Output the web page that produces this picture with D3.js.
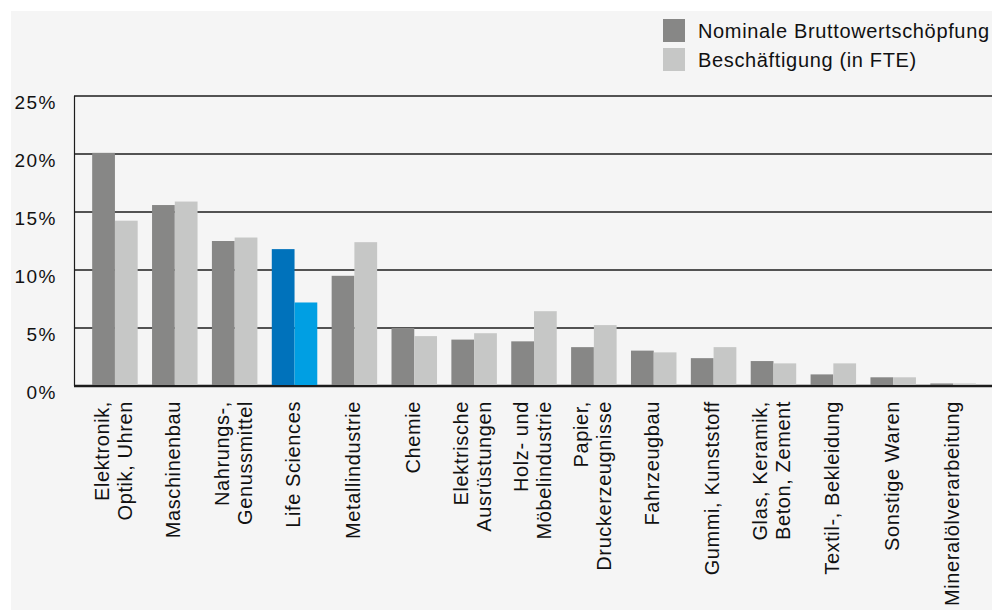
<!DOCTYPE html>
<html>
<head>
<meta charset="utf-8">
<script src="https://cdn.jsdelivr.net/npm/d3@7/dist/d3.min.js"></script>
<style>
  html, body { margin: 0; padding: 0; background: #ffffff; }
  svg { display: block; }
  text { font-family: "Liberation Sans", Arial, Helvetica, sans-serif; fill: #111; }
</style>
</head>
<body>
<svg id="chart" width="992" height="610"></svg>
<script>
const categories = [
  ["Elektronik,", "Optik, Uhren"],
  ["Maschinenbau"],
  ["Nahrungs-,", "Genussmittel"],
  ["Life Sciences"],
  ["Metallindustrie"],
  ["Chemie"],
  ["Elektrische", "Ausrüstungen"],
  ["Holz- und", "Möbelindustrie"],
  ["Papier,", "Druckerzeugnisse"],
  ["Fahrzeugbau"],
  ["Gummi, Kunststoff"],
  ["Glas, Keramik,", "Beton, Zement"],
  ["Textil-, Bekleidung"],
  ["Sonstige Waren"],
  ["Mineralölverarbeitung"]
];
const seriesNames = ["Nominale Bruttowertschöpfung", "Beschäftigung (in FTE)"];
const bruttowertschoepfung = [20.1, 15.6, 12.5, 11.8, 9.5, 5.0, 4.0, 3.85, 3.35, 3.05, 2.4, 2.15, 1.0, 0.75, 0.22];
const beschaeftigung      = [14.25, 15.9, 12.8, 7.2, 12.4, 4.3, 4.55, 6.45, 5.25, 2.9, 3.35, 1.95, 1.95, 0.75, 0.22];
const yTicks = [0, 5, 10, 15, 20, 25];
const highlight = "Life Sciences";

const colors = {
  dark: "#878786", light: "#c6c7c6",
  hiDark: "#0072bb", hiLight: "#009fe3"
};

const svg = d3.select("#chart");
const W = 992, H = 610;

// background panel
svg.append("rect").attr("x", 11).attr("y", 11).attr("width", W - 11).attr("height", H - 11).attr("fill", "#f5f5f5");

const plot = { left: 74, right: 992, top: 96, bottom: 386 };

const keys = categories.map(c => c.join(" "));
const x = d3.scaleBand().domain(keys).range([85, 983]).paddingInner(0.24).paddingOuter(0.12);
const xs = d3.scaleBand().domain([0, 1]).range([0, x.bandwidth()]).padding(0);
const y = d3.scaleLinear().domain([0, 25]).range([plot.bottom, plot.top]);

// gridlines
svg.append("g").selectAll("line").data(yTicks).join("line")
  .attr("x1", plot.left).attr("x2", plot.right)
  .attr("y1", d => y(d)).attr("y2", d => y(d))
  .attr("stroke", "#1c1c1c")
  .attr("stroke-width", d => d === 0 ? 2.5 : 1.5);

// left axis line
svg.append("line").attr("x1", plot.left + 0.5).attr("x2", plot.left + 0.5)
  .attr("y1", y(25)).attr("y2", y(0)).attr("stroke", "#1c1c1c").attr("stroke-width", 1.2);

// bars
const rows = keys.map((k, i) => ({ k, vals: [bruttowertschoepfung[i], beschaeftigung[i]] }));
const grp = svg.append("g").selectAll("g").data(rows).join("g")
  .attr("transform", d => `translate(${x(d.k)},0)`);
grp.selectAll("rect").data(d => d.vals.map((v, j) => ({ v, j, k: d.k }))).join("rect")
  .attr("x", d => xs(d.j))
  .attr("width", xs.bandwidth())
  .attr("y", d => y(d.v))
  .attr("height", d => y(0) - y(d.v) - 1)
  .attr("fill", d => d.k === highlight ? (d.j === 0 ? colors.hiDark : colors.hiLight) : (d.j === 0 ? colors.dark : colors.light));

// y tick labels
svg.append("g").selectAll("text").data(yTicks).join("text")
  .attr("x", 57).attr("y", d => y(d) + 13)
  .attr("text-anchor", "end")
  .style("font-size", "19px").style("letter-spacing", "1.5px")
  .text(d => d + "%");

// category labels
const labY = 401;
const lg = svg.append("g").selectAll("g").data(categories).join("g")
  .attr("transform", (d, i) => `translate(${x(keys[i]) + x.bandwidth() / 2},${labY}) rotate(-90)`);
lg.each(function (lines) {
  const n = lines.length;
  d3.select(this).selectAll("text").data(lines).join("text")
    .attr("x", 0)
    .attr("y", (l, j) => 5.5 + (j - (n - 1) / 2) * 23)
    .attr("text-anchor", "end")
    .style("font-size", "20px").style("letter-spacing", "0.6px")
    .text(l => l);
});

// legend
const leg = svg.append("g").selectAll("g").data(seriesNames).join("g")
  .attr("transform", (d, i) => `translate(663,${19 + i * 29})`);
leg.append("rect").attr("width", 22).attr("height", 23)
  .attr("fill", (d, i) => i === 0 ? colors.dark : colors.light);
leg.append("text").attr("x", 35).attr("y", 18.5)
  .style("font-size", "20px").style("letter-spacing", "0.65px")
  .text(d => d);
</script>
</body>
</html>
